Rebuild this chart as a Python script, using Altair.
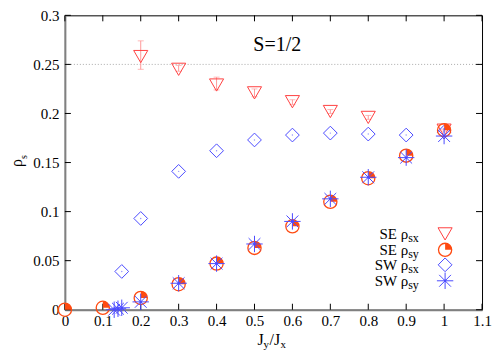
import altair as alt
import pandas as pd

W, H = 418, 295

# data
se_sx_x = [0.2, 0.3, 0.4, 0.5, 0.6, 0.7, 0.8, 1.0]
se_sx_y = [0.258, 0.245, 0.229, 0.221, 0.212, 0.202, 0.196, 0.183]
se_sx_lo = [0.245, 0.243, 0.224, 0.217, 0.209, 0.200, 0.194, 0.182]
se_sx_hi = [0.274, 0.249, 0.237, 0.225, 0.214, 0.204, 0.198, 0.184]

se_sy_x = [0.0, 0.1, 0.2, 0.3, 0.4, 0.5, 0.6, 0.7, 0.8, 0.9, 1.0]
se_sy_y = [0.000, 0.002, 0.012, 0.026, 0.047, 0.063, 0.085, 0.110, 0.134, 0.157, 0.183]

sw_sx_x = [0.15, 0.2, 0.3, 0.4, 0.5, 0.6, 0.7, 0.8, 0.9, 1.0]
sw_sx_y = [0.039, 0.093, 0.141, 0.162, 0.173, 0.178, 0.180, 0.179, 0.178, 0.181]

sw_sy_x = [0.13, 0.14, 0.15, 0.2, 0.3, 0.4, 0.5, 0.6, 0.7, 0.8, 0.9, 1.0]
sw_sy_y = [0.000, 0.001, 0.002, 0.008, 0.027, 0.047, 0.067, 0.090, 0.113, 0.135, 0.155, 0.177]

x_ticks = [0, 0.1, 0.2, 0.3, 0.4, 0.5, 0.6, 0.7, 0.8, 0.9, 1.0, 1.1]
y_ticks = [0, 0.05, 0.1, 0.15, 0.2, 0.25, 0.3]

legend_labels = ["SE ρ", "SE ρ", "SW ρ", "SW ρ"]
legend_subs = ["sx", "sy", "sx", "sy"]

RED = "#ff4040"
PINK = "#ff9a9a"
ORANGE = "#ff4a10"
BLUE = "#4a4aff"
FONT = "Times New Roman"

QUAD = "M0,0L0,-1L0.383,-0.924L0.707,-0.707L0.924,-0.383L1,0Z"
STAR = "M-1,0L1,0M0,-1L0,1M-0.72,-0.72L0.72,0.72M-0.72,0.72L0.72,-0.72"

xs = alt.Scale(domain=[0, 1.1], nice=False, zero=False)
ys = alt.Scale(domain=[0, 0.3], nice=False, zero=False)

AX = alt.Axis(values=x_ticks, format="~g", title=None, labelPadding=4, grid=False, ticks=False,
              domainColor="#808080", domainWidth=2, labelFont=FONT, labelFontSize=15,
              labelColor="black", labelOverlap=False, labelFlush=False)
AY = alt.Axis(values=y_ticks, format="~g", title=None, labelPadding=6, grid=False, ticks=False,
              domainColor="#808080", domainWidth=2, labelFont=FONT, labelFontSize=15,
              labelColor="black", labelOverlap=False, labelFlush=False)

se_sx = pd.DataFrame({"x": se_sx_x, "y": se_sx_y, "lo": se_sx_lo, "hi": se_sx_hi})
se_sy = pd.DataFrame({"x": se_sy_x, "y": se_sy_y})
sw_sx = pd.DataFrame({"x": sw_sx_x, "y": sw_sx_y})
sw_sy = pd.DataFrame({"x": sw_sy_x, "y": sw_sy_y})
xt = pd.DataFrame({"t": x_ticks})
yt = pd.DataFrame({"t": y_ticks})


def XS(f):
    return alt.X(f, scale=xs, axis=AX)


def YS(f):
    return alt.Y(f, scale=ys, axis=AY)


base_axes = alt.Chart(se_sy).mark_point(opacity=0).encode(x=XS("x:Q"), y=YS("y:Q"))

ref = alt.Chart(pd.DataFrame({"y": [0.25]})).mark_rule(
    color="#aaaaaa", strokeDash=[1, 2], strokeWidth=1).encode(y=YS("y:Q"))

# inward ticks
tick_b = alt.Chart(xt).mark_rule(color="black").encode(
    x=XS("t:Q"), y=alt.value(H), y2=alt.value(H - 6))
tick_t = alt.Chart(xt).mark_rule(color="black").encode(
    x=XS("t:Q"), y=alt.value(0), y2=alt.value(6))
tick_l = alt.Chart(yt).mark_rule(color="black").encode(
    y=YS("t:Q"), x=alt.value(0), x2=alt.value(6))
tick_r = alt.Chart(yt).mark_rule(color="black").encode(
    y=YS("t:Q"), x=alt.value(W), x2=alt.value(W - 6))

err = alt.Chart(se_sx).mark_rule(color=PINK, strokeWidth=1).encode(
    x=XS("x:Q"), y=YS("lo:Q"), y2="hi:Q")
cap_lo = alt.Chart(se_sx).mark_tick(color=PINK, orient="horizontal", size=6, thickness=1).encode(
    x=XS("x:Q"), y=YS("lo:Q"))
cap_hi = alt.Chart(se_sx).mark_tick(color=PINK, orient="horizontal", size=6, thickness=1).encode(
    x=XS("x:Q"), y=YS("hi:Q"))


def pts(df, **kw):
    return alt.Chart(df).mark_point(**kw).encode(x=XS("x:Q"), y=YS("y:Q"))


tri = pts(se_sx, shape="triangle-down", size=200, color=RED, strokeWidth=1, opacity=1)
circ = pts(se_sy, shape="circle", size=175, color=ORANGE, strokeWidth=1.3, opacity=1)
quad = pts(se_sy, shape=QUAD, size=175, color=ORANGE, filled=True, opacity=1)
dia = pts(sw_sx, shape="diamond", size=190, color=BLUE, strokeWidth=1, opacity=1)
dia_dot = pts(sw_sx, shape="circle", size=2, color=BLUE, filled=True, opacity=0.6)
star = pts(sw_sy, shape=STAR, size=270, color=BLUE, strokeWidth=1, opacity=1)
star_dot = pts(sw_sy, shape="circle", size=6, color=BLUE, filled=True, opacity=1)

s_label = alt.Chart(pd.DataFrame({"x": [0.56], "y": [0.27], "t": ["S=1/2"]})).mark_text(
    font=FONT, fontSize=20, color="black").encode(x=XS("x:Q"), y=YS("y:Q"), text="t:N")

# legend
leg_layers = []
row_y = [219, 235, 250, 266]
mk_x = 381
for i in range(4):
    d = pd.DataFrame({"a": [legend_labels[i]], "b": [legend_subs[i]]})
    leg_layers.append(alt.Chart(d).mark_text(font=FONT, fontSize=15, align="right",
                                             baseline="middle", color="black").encode(
        x=alt.value(344), y=alt.value(row_y[i]), text="a:N"))
    leg_layers.append(alt.Chart(d).mark_text(font=FONT, fontSize=12, align="left",
                                             baseline="middle", color="black").encode(
        x=alt.value(344), y=alt.value(row_y[i] + 4), text="b:N"))
    m = alt.Chart(d)
    if i == 0:
        leg_layers.append(m.mark_point(shape="triangle-down", size=200, color=RED,
                                       strokeWidth=1, opacity=1).encode(
            x=alt.value(mk_x), y=alt.value(row_y[i])))
    elif i == 1:
        leg_layers.append(m.mark_point(shape="circle", size=175, color=ORANGE,
                                       strokeWidth=1.3, opacity=1).encode(
            x=alt.value(mk_x), y=alt.value(row_y[i])))
        leg_layers.append(m.mark_point(shape=QUAD, size=175, color=ORANGE, filled=True,
                                       opacity=1).encode(
            x=alt.value(mk_x), y=alt.value(row_y[i])))
    elif i == 2:
        leg_layers.append(m.mark_point(shape="diamond", size=190, color=BLUE,
                                       strokeWidth=1, opacity=1).encode(
            x=alt.value(mk_x), y=alt.value(row_y[i])))
    else:
        leg_layers.append(m.mark_point(shape=STAR, size=270, color=BLUE,
                                       strokeWidth=1, opacity=1).encode(
            x=alt.value(mk_x), y=alt.value(row_y[i])))
        leg_layers.append(m.mark_point(shape="circle", size=6, color=BLUE, filled=True,
                                       opacity=1).encode(
            x=alt.value(mk_x), y=alt.value(row_y[i])))

# axis titles
td = pd.DataFrame({"a": ["J"]})
x_title = [
    alt.Chart(td).mark_text(font=FONT, fontSize=16, align="left", baseline="alphabetic",
                            color="black", text="J").encode(x=alt.value(193), y=alt.value(330)),
    alt.Chart(td).mark_text(font=FONT, fontSize=11, align="left", baseline="alphabetic",
                            color="black", text="y").encode(x=alt.value(199), y=alt.value(333)),
    alt.Chart(td).mark_text(font=FONT, fontSize=16, align="left", baseline="alphabetic",
                            color="black", text="/J").encode(x=alt.value(205), y=alt.value(330)),
    alt.Chart(td).mark_text(font=FONT, fontSize=11, align="left", baseline="alphabetic",
                            color="black", text="x").encode(x=alt.value(216), y=alt.value(333)),
]
y_title = [
    alt.Chart(td).mark_text(font=FONT, fontSize=16, angle=270, align="center",
                            baseline="middle", color="black", text="ρ").encode(
        x=alt.value(-48), y=alt.value(148)),
    alt.Chart(td).mark_text(font=FONT, fontSize=10, angle=270, align="center",
                            baseline="middle", color="black", text="s").encode(
        x=alt.value(-41), y=alt.value(142)),
]

chart = alt.layer(
    base_axes, ref, tick_b, tick_t, tick_l, tick_r,
    err, cap_lo, cap_hi,
    tri, dia, dia_dot, circ, quad, star, star_dot,
    s_label, *leg_layers, *x_title, *y_title
).properties(
    width=W, height=H,
    autosize=alt.AutoSizeParams(type="none"),
    padding={"left": 57, "top": 7, "right": 10, "bottom": 40},
    background="white",
).configure(font=FONT).configure_view(stroke="black", strokeWidth=1).configure_axis(
    grid=False, ticks=False, domainColor="#808080", domainWidth=2,
    labelFont=FONT, labelFontSize=15, labelColor="black",
    labelOverlap=False, labelFlush=False,
)

chart.save("out.html", embed_options={"renderer": "svg", "actions": False})
